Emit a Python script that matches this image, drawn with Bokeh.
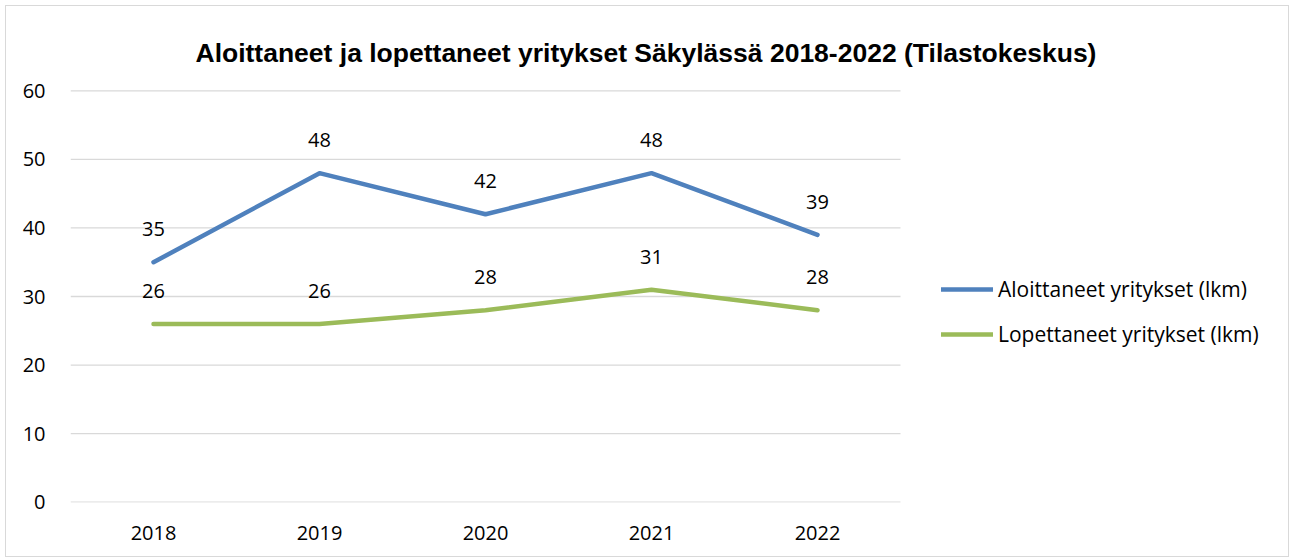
from bokeh.plotting import figure
from bokeh.models import ColumnDataSource, Legend, LegendItem, Range1d, FixedTicker, Label
from bokeh.core.properties import value
from bokeh.embed import file_html
from bokeh.resources import INLINE

years = ["2018", "2019", "2020", "2021", "2022"]
aloittaneet = [35, 48, 42, 48, 39]
lopettaneet = [26, 26, 28, 31, 28]
y_ticks = [0, 10, 20, 30, 40, 50, 60]
series_names = ["Aloittaneet yritykset (lkm)", "Lopettaneet yritykset (lkm)"]
title_text = "Aloittaneet ja lopettaneet yritykset Säkylässä 2018-2022 (Tilastokeskus)"

FONT = "Open Sans"
W, H = 1284, 552
LEFT, RIGHT_BORDER, BOTTOM = 64, 10, 56
PLOT_TOP = 84          # where the value 60 sits, px from the top
CAT_PX = 166           # pixels per category slot
frame_w = W - LEFT - RIGHT_BORDER
frame_h = H - BOTTOM
x_idx = list(range(len(years)))
x_start = -0.5
x_end = x_start + frame_w / CAT_PX
y_lo, y_hi = y_ticks[0] - 0.06, y_ticks[-1] + 0.06
px_per_unit = (frame_h - PLOT_TOP) / (y_hi - y_lo)
y_top = y_hi + PLOT_TOP / px_per_unit

p = figure(width=W, height=H, x_range=Range1d(x_start, x_end),
           y_range=Range1d(y_lo, y_top),
           output_backend="svg", toolbar_location=None,
           min_border_left=LEFT, min_border_right=RIGHT_BORDER,
           min_border_top=0, min_border_bottom=BOTTOM)
p.styles = {"border": "1px solid #d9d9d9", "box-sizing": "border-box", "margin": "5px 0 0 5px"}
p.outline_line_color = None
p.background_fill_color = "white"
p.border_fill_color = "white"

title = Label(x=125, y=frame_h - 46, x_units="screen", y_units="screen", text=title_text,
              text_font="Liberation Sans", text_font_style="bold", text_font_size="26.5px",
              text_color="#000000", text_align="left", text_baseline="alphabetic")
p.add_layout(title)

p.xgrid.grid_line_color = None
p.ygrid.grid_line_color = None
p.segment(x0=[x_start] * len(y_ticks), x1=[len(years) - 0.5] * len(y_ticks),
          y0=y_ticks, y1=y_ticks, line_color="#d9d9d9", line_width=1.3)

p.yaxis.ticker = FixedTicker(ticks=y_ticks)
p.xaxis.ticker = FixedTicker(ticks=x_idx)
p.xaxis.major_label_overrides = {i: y for i, y in zip(x_idx, years)}
for ax in (p.xaxis, p.yaxis):
    ax.axis_line_color = None
    ax.major_tick_line_color = None
    ax.minor_tick_line_color = None
    ax.major_label_text_font = FONT
    ax.major_label_text_font_size = "20px"
    ax.major_label_text_color = "#000000"
p.yaxis.major_label_standoff = 19
p.xaxis.major_label_standoff = 17

src = ColumnDataSource(dict(x=x_idx, a=aloittaneet, l=lopettaneet,
                            at=[str(v) for v in aloittaneet], lt=[str(v) for v in lopettaneet]))

r1 = p.line("x", "a", source=src, line_color="#4F81BD", line_width=4.5, line_cap="round", line_join="round")
r2 = p.line("x", "l", source=src, line_color="#9BBB59", line_width=4.5, line_cap="round", line_join="round")

for col, tcol in (("a", "at"), ("l", "lt")):
    p.text("x", col, text=tcol, source=src, text_font=value(FONT), text_font_size="20px",
           text_color="#000000", text_align="center", text_baseline="middle", y_offset=-33)

legend = Legend(items=[LegendItem(label=series_names[0], renderers=[r1]),
                       LegendItem(label=series_names[1], renderers=[r2])],
                location=(871, 154), orientation="vertical",
                glyph_width=52, glyph_height=20, label_height=20, label_standoff=5,
                spacing=17, padding=0, margin=0,
                label_text_font=FONT, label_text_font_size="21px", label_text_color="#000000",
                border_line_color=None, background_fill_alpha=0)
p.add_layout(legend)

open("out.html", "w").write(file_html(p, INLINE))
